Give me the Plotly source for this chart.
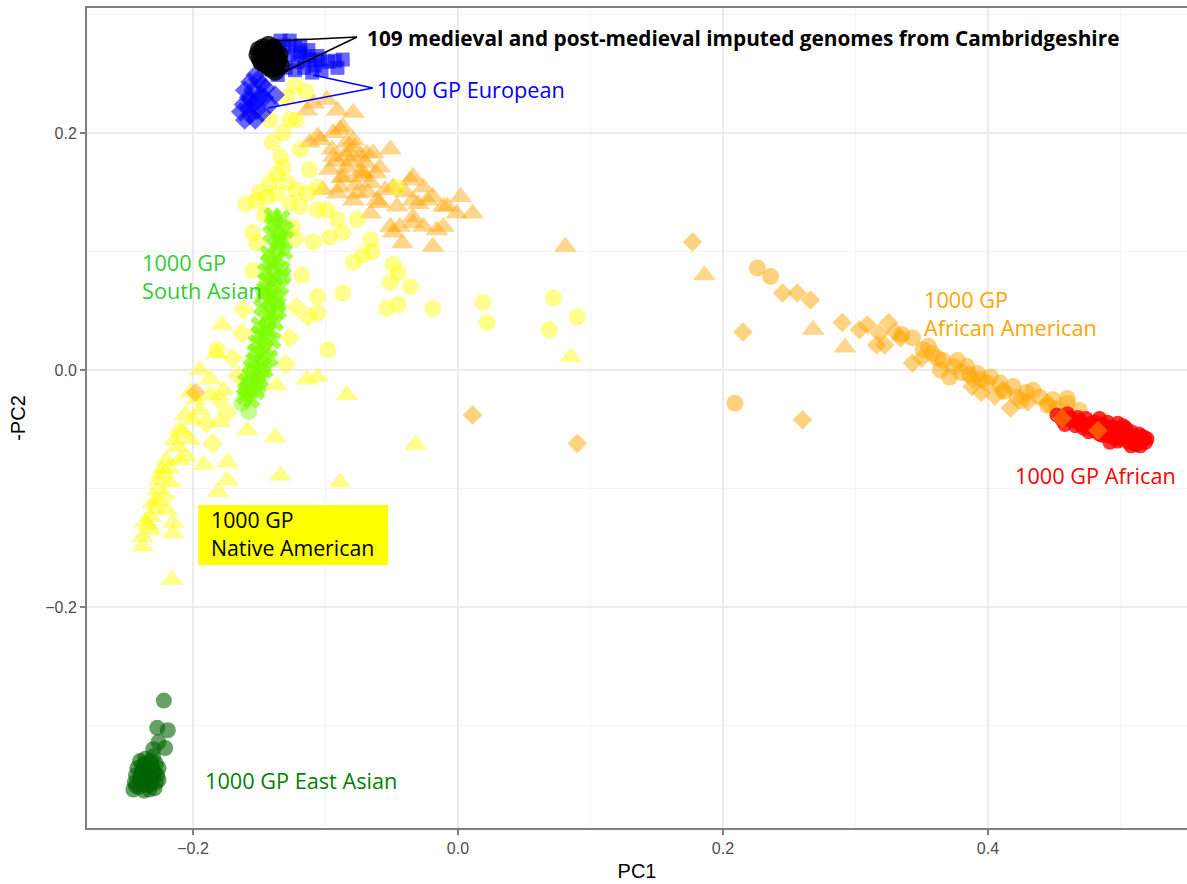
import plotly.graph_objects as go

# ---------------- data (PC1, -PC2) ----------------
camb_x = [-0.150, -0.148, -0.146, -0.144, -0.142, -0.140, -0.138, -0.145, -0.141, -0.147,
          -0.136, -0.143, -0.149, -0.139, -0.144, -0.137, -0.146, -0.142, -0.151, -0.135,
          -0.140, -0.134, -0.138, -0.148, -0.143]
camb_y = [0.270, 0.266, 0.262, 0.268, 0.264, 0.260, 0.266, 0.258, 0.270, 0.272,
          0.262, 0.256, 0.262, 0.272, 0.264, 0.258, 0.266, 0.268, 0.266, 0.266,
          0.255, 0.257, 0.252, 0.260, 0.274]

eur_sq_x = [-0.131, -0.123, -0.119, -0.116, -0.112, -0.108, -0.127, -0.121, -0.116, -0.110,
            -0.104, -0.098, -0.093, -0.087, -0.103, -0.134, -0.127, -0.138, -0.119, -0.113,
            -0.123, -0.130, -0.106, -0.091, -0.140, -0.136]
eur_sq_y = [0.274, 0.272, 0.268, 0.265, 0.262, 0.257, 0.266, 0.260, 0.255, 0.251,
            0.262, 0.260, 0.261, 0.262, 0.253, 0.278, 0.278, 0.270, 0.274, 0.270,
            0.253, 0.255, 0.265, 0.255, 0.253, 0.249]
eur_dm_x = [-0.153, -0.157, -0.161, -0.158, -0.155, -0.152, -0.157, -0.161, -0.153, -0.149,
            -0.148, -0.151, -0.162, -0.164, -0.146, -0.148, -0.142, -0.145, -0.138, -0.155,
            -0.158, -0.151, -0.157]
eur_dm_y = [0.249, 0.243, 0.236, 0.230, 0.224, 0.219, 0.215, 0.211, 0.211, 0.232,
            0.241, 0.245, 0.224, 0.218, 0.230, 0.217, 0.224, 0.238, 0.232, 0.236,
            0.221, 0.228, 0.228]

amr_circ_x = [-0.127, -0.132, -0.140, -0.134, -0.132, -0.142, -0.152, -0.144, -0.137, -0.129,
              -0.122, -0.114, -0.106, -0.127, -0.119, -0.106, -0.099, -0.091, -0.155, -0.152,
              -0.155, -0.125, -0.109, -0.097, -0.087, -0.076, -0.066, -0.065, -0.079, -0.072,
              -0.118, -0.106, -0.087, -0.106, -0.049, -0.045, -0.051, -0.036, -0.054, -0.045,
              -0.019, 0.019, 0.022, 0.072, 0.069, 0.090, -0.098, -0.182, -0.129, -0.122,
              -0.046, -0.142, -0.119, -0.112, -0.146, -0.123, -0.115, -0.160, -0.150, -0.137]
amr_circ_y = [0.211, 0.200, 0.192, 0.180, 0.171, 0.158, 0.143, 0.146, 0.149, 0.158,
              0.152, 0.149, 0.154, 0.141, 0.138, 0.135, 0.135, 0.127, 0.116, 0.107,
              0.084, 0.121, 0.108, 0.112, 0.116, 0.127, 0.110, 0.100, 0.091, 0.097,
              0.080, 0.062, 0.065, 0.048, 0.089, 0.082, 0.074, 0.070, 0.052, 0.055,
              0.052, 0.057, 0.040, 0.061, 0.034, 0.045, 0.017, 0.017, 0.230, 0.211,
              0.154, 0.211, 0.186, 0.169, 0.131, 0.240, 0.235, 0.140, 0.150, 0.165]

amr_tri_x = [-0.195, -0.202, -0.208, -0.205, -0.223, -0.217, -0.227, -0.232, -0.238, -0.238,
             -0.215, -0.216, -0.192, -0.174, -0.174, -0.181, -0.180, -0.159, -0.138, -0.134,
             -0.114, -0.106, -0.177, -0.187, -0.195, -0.200, -0.212, -0.220, -0.210, -0.227,
             -0.220, -0.232, -0.215, -0.084, -0.089, -0.032, 0.085, -0.178, -0.182, -0.137,
             -0.198, -0.206, -0.214, -0.225, -0.229, -0.234, -0.221, -0.202, -0.187, -0.210,
             -0.224, -0.230, -0.218, -0.236]
amr_tri_y = [0.000, -0.019, -0.053, -0.073, -0.084, -0.095, -0.110, -0.124, -0.141, -0.149,
             -0.138, -0.177, -0.080, -0.078, -0.093, -0.103, -0.044, -0.051, -0.057, -0.089,
             -0.008, -0.006, -0.017, -0.008, -0.034, -0.042, -0.065, -0.076, -0.076, -0.101,
             -0.118, -0.135, -0.129, -0.021, -0.095, -0.063, 0.011, 0.038, 0.014, -0.013,
             -0.025, -0.038, -0.059, -0.093, -0.118, -0.131, -0.106, -0.059, -0.021, -0.050,
             -0.088, -0.112, -0.083, -0.128]

amr_dm_x = [-0.122, -0.113, -0.127, -0.162, -0.163, -0.147, -0.159, -0.185, -0.174, -0.122,
            -0.170, -0.190, -0.180, -0.130, -0.166]
amr_dm_y = [0.053, 0.045, 0.027, 0.051, 0.031, 0.019, -0.017, -0.062, -0.036, 0.111,
            0.010, -0.045, -0.025, 0.005, -0.005]

oth_tri_x = [-0.109, -0.099, -0.091, -0.079, -0.104, -0.094, -0.087, -0.084, -0.074, -0.064,
             -0.051, -0.059, -0.072, -0.084, -0.094, -0.036, -0.026, -0.034, -0.019, -0.008,
             0.002, -0.001, -0.034, -0.046, -0.061, -0.076, -0.044, -0.026, -0.016, -0.019,
             -0.049, -0.102, -0.112, -0.089, -0.066, -0.106, -0.089, -0.079, -0.069, -0.097,
             -0.072, -0.049, -0.034, -0.023, -0.011, 0.011, -0.051, -0.042, -0.034, -0.011,
             -0.059, -0.079, -0.091, 0.081, 0.186, 0.268, 0.292, -0.114, -0.082, -0.070,
             -0.088, -0.066, -0.077, -0.095, -0.081, -0.073, -0.086, -0.068, -0.092, -0.078,
             -0.062, -0.085, -0.055, -0.040, -0.030]
oth_tri_y = [0.225, 0.228, 0.219, 0.217, 0.194, 0.200, 0.205, 0.192, 0.180, 0.183,
             0.186, 0.171, 0.166, 0.171, 0.180, 0.160, 0.154, 0.143, 0.146, 0.138,
             0.146, 0.132, 0.129, 0.138, 0.143, 0.149, 0.121, 0.121, 0.118, 0.104,
             0.116, 0.152, 0.192, 0.154, 0.132, 0.197, 0.203, 0.194, 0.183, 0.169,
             0.163, 0.154, 0.163, 0.143, 0.138, 0.132, 0.121, 0.107, 0.124, 0.121,
             0.141, 0.143, 0.149, 0.104, 0.080, 0.034, 0.019, 0.219, 0.184, 0.175,
             0.162, 0.158, 0.156, 0.186, 0.176, 0.168, 0.163, 0.150, 0.176, 0.188,
             0.166, 0.181, 0.152, 0.150, 0.140]

afam_circ_x = [0.226, 0.236, 0.209, 0.343, 0.351, 0.358, 0.366, 0.377, 0.384, 0.392,
               0.402, 0.409, 0.419, 0.429, 0.439, 0.449, 0.460, 0.364, 0.374, 0.399,
               0.422, 0.434, 0.371, 0.460, 0.469, 0.485, 0.335, 0.355, 0.380, 0.395,
               0.412, 0.445, 0.362, 0.386, 0.425, 0.452]
afam_circ_y = [0.086, 0.079, -0.028, 0.027, 0.017, 0.014, 0.008, 0.008, 0.003, -0.003,
               -0.006, -0.011, -0.014, -0.019, -0.023, -0.025, -0.028, 0.000, 0.003, -0.011,
               -0.023, -0.017, -0.006, -0.024, -0.034, -0.042, 0.030, 0.020, -0.002, -0.008,
               -0.018, -0.030, 0.010, -0.004, -0.026, -0.033]
afam_dm_x = [0.177, 0.245, 0.256, 0.266, 0.215, 0.290, 0.011, 0.090, 0.260, 0.303,
             0.309, 0.325, 0.318, 0.316, 0.322, 0.334, 0.343, 0.388, 0.395, 0.417,
             0.456, 0.483, 0.389, 0.411, 0.445, -0.198, 0.330, 0.350, 0.405, 0.430]
afam_dm_y = [0.108, 0.065, 0.065, 0.059, 0.032, 0.040, -0.038, -0.062, -0.042, 0.034,
             0.038, 0.040, 0.031, 0.021, 0.021, 0.027, 0.006, -0.014, -0.019, -0.032,
             -0.041, -0.051, -0.008, -0.017, -0.028, -0.019, 0.032, 0.010, -0.022, -0.027]

afr_x = [0.452, 0.456, 0.460, 0.464, 0.468, 0.470, 0.474, 0.476, 0.480, 0.482,
         0.484, 0.486, 0.488, 0.490, 0.492, 0.494, 0.496, 0.498, 0.500, 0.502,
         0.504, 0.506, 0.508, 0.510, 0.512, 0.514, 0.516, 0.518, 0.470, 0.478,
         0.486, 0.494, 0.502, 0.510, 0.516, 0.490, 0.498, 0.506, 0.462, 0.500,
         0.458, 0.466, 0.472, 0.480, 0.488, 0.496, 0.504, 0.512, 0.519, 0.484,
         0.476, 0.492, 0.508, 0.515, 0.520]
afr_y = [-0.038, -0.042, -0.037, -0.043, -0.040, -0.046, -0.041, -0.048, -0.044, -0.050,
         -0.041, -0.046, -0.052, -0.044, -0.056, -0.048, -0.053, -0.045, -0.058, -0.050,
         -0.055, -0.061, -0.052, -0.058, -0.063, -0.054, -0.060, -0.057, -0.043, -0.045,
         -0.055, -0.052, -0.047, -0.062, -0.056, -0.050, -0.060, -0.057, -0.040, -0.053,
         -0.046, -0.047, -0.049, -0.051, -0.047, -0.058, -0.049, -0.056, -0.061, -0.054,
         -0.052, -0.061, -0.064, -0.064, -0.058]

sas_x = [-0.140, -0.133, -0.137, -0.130, -0.141, -0.135, -0.138, -0.131, -0.143, -0.136,
         -0.140, -0.133, -0.145, -0.138, -0.141, -0.134, -0.146, -0.139, -0.143, -0.136,
         -0.148, -0.141, -0.145, -0.138, -0.150, -0.143, -0.147, -0.140, -0.152, -0.145,
         -0.149, -0.142, -0.154, -0.147, -0.151, -0.157, -0.149, -0.155, -0.159, -0.152,
         -0.161, -0.156, -0.146, -0.137, -0.132, -0.135, -0.144, -0.150, -0.153, -0.139,
         -0.134, -0.142, -0.136, -0.147, -0.144, -0.156, -0.151, -0.160]
sas_y = [0.130, 0.128, 0.122, 0.118, 0.115, 0.110, 0.104, 0.100, 0.098, 0.094,
         0.088, 0.085, 0.083, 0.078, 0.072, 0.070, 0.068, 0.063, 0.058, 0.055,
         0.053, 0.048, 0.043, 0.040, 0.038, 0.033, 0.028, 0.025, 0.023, 0.018,
         0.013, 0.010, 0.008, 0.004, -0.001, -0.004, -0.008, -0.012, -0.016, -0.018,
         -0.022, -0.025, 0.000, 0.060, 0.080, 0.108, 0.075, 0.030, 0.015, 0.125,
         0.112, 0.092, 0.050, 0.064, 0.036, 0.002, -0.013, -0.010]
sas_circ_x = [-0.158, -0.163, -0.160]
sas_circ_y = [-0.035, -0.028, -0.020]

eas_x = [-0.240, -0.236, -0.232, -0.228, -0.242, -0.238, -0.234, -0.230, -0.226, -0.243,
         -0.239, -0.235, -0.231, -0.227, -0.244, -0.240, -0.236, -0.232, -0.228, -0.245,
         -0.241, -0.237, -0.233, -0.229, -0.238, -0.234, -0.230, -0.226, -0.240, -0.235,
         -0.231, -0.243, -0.236, -0.229,
         -0.222, -0.227, -0.219, -0.221, -0.230, -0.226]
eas_y = [-0.330, -0.328, -0.330, -0.332, -0.336, -0.334, -0.336, -0.338, -0.336, -0.342,
         -0.340, -0.342, -0.344, -0.342, -0.348, -0.346, -0.348, -0.350, -0.348, -0.354,
         -0.352, -0.355, -0.354, -0.353, -0.338, -0.345, -0.326, -0.346, -0.344, -0.350,
         -0.334, -0.351, -0.332, -0.340,
         -0.279, -0.302, -0.304, -0.319, -0.320, -0.314]

# ---------------- figure ----------------
fig = go.Figure()

def add(x, y, color, symbol, size, opacity):
    fig.add_trace(go.Scatter(x=x, y=y, mode="markers", showlegend=False, hoverinfo="skip",
                             marker=dict(color=color, symbol=symbol, size=size,
                                         opacity=opacity, line=dict(width=0))))

add(oth_tri_x, oth_tri_y, "#FFA500", "triangle-up", 20, 0.45)
add(amr_tri_x, amr_tri_y, "#FFFF00", "triangle-up", 20, 0.45)
add(amr_dm_x, amr_dm_y, "#FFFF00", "diamond", 16, 0.45)
add(amr_circ_x, amr_circ_y, "#FFFF00", "circle", 17, 0.45)
add(afam_circ_x, afam_circ_y, "#FFA500", "circle", 17, 0.5)
add(afr_x, afr_y, "#FF0000", "circle", 15, 0.8)
add(afam_dm_x, afam_dm_y, "#FFA500", "diamond", 15, 0.5)
add(sas_x, sas_y, "#7CFC00", "x", 16, 0.7)
add(sas_circ_x, sas_circ_y, "#7CFC00", "circle", 17, 0.45)
add(eas_x, eas_y, "#006400", "circle", 16, 0.6)
add(eur_sq_x, eur_sq_y, "#0000FF", "square", 14, 0.6)
add(eur_dm_x, eur_dm_y, "#0000FF", "diamond", 15, 0.6)
add(camb_x, camb_y, "#000000", "circle", 19, 0.8)

LABEL_FONT = "Open Sans, Noto Sans, sans-serif"

# leader lines
camb_vertex = (-0.0762, 0.281)
camb_ends = [(-0.1381, 0.2776), (-0.1328, 0.2506)]
eur_vertex = (-0.0642, 0.238)
eur_ends = [(-0.1094, 0.2489), (-0.1434, 0.2211)]
shapes = []
for ex, ey in camb_ends:
    shapes.append(dict(type="line", xref="x", yref="y", x0=camb_vertex[0], y0=camb_vertex[1],
                       x1=ex, y1=ey, line=dict(color="black", width=1.5)))
for ex, ey in eur_ends:
    shapes.append(dict(type="line", xref="x", yref="y", x0=eur_vertex[0], y0=eur_vertex[1],
                       x1=ex, y1=ey, line=dict(color="#0000FF", width=1.5)))
# Native American yellow box
shapes.append(dict(type="rect", xref="x", yref="y", x0=-0.196, x1=-0.0528, y0=-0.1646, y1=-0.1139,
                   fillcolor="#FFFF00", line=dict(width=0), layer="above"))

annotations = [
    dict(x=-0.0700, y=0.280, text="<b>109 medieval and post-medieval imputed genomes from Cambridgeshire</b>",
         font=dict(color="black", size=20.8)),
    dict(x=-0.0625, y=0.237, text="1000 GP European", font=dict(color="#0000FF", size=21.7)),
    dict(x=-0.240, y=0.0785, text="1000 GP<br>South Asian", font=dict(color="#33CC33", size=21.7)),
    dict(x=0.350, y=0.048, text="1000 GP<br>African American", font=dict(color="#FFA500", size=21.7)),
    dict(x=0.419, y=-0.0886, text="1000 GP African", font=dict(color="#FF0000", size=21.7)),
    dict(x=-0.188, y=-0.1376, text="1000 GP<br>Native American", font=dict(color="black", size=21.3)),
    dict(x=-0.1925, y=-0.3468, text="1000 GP East Asian", font=dict(color="#008000", size=21.7)),
]
for a in annotations:
    a.update(xref="x", yref="y", xanchor="left", yanchor="middle", align="left",
             showarrow=False)
    a["font"]["family"] = LABEL_FONT

grid_major = "#EBEBEB"
grid_minor = "#F5F5F5"
tick_font = dict(family="Liberation Sans, Arial, sans-serif", size=16, color="#4D4D4D")

fig.update_layout(
    width=1187, height=884,
    margin=dict(l=87, r=0, t=8, b=56),
    paper_bgcolor="white", plot_bgcolor="white",
    shapes=shapes, annotations=annotations,
    xaxis=dict(range=[-0.28, 0.5502], tickvals=[-0.2, 0.0, 0.2, 0.4], tickformat=".1f",
               showgrid=True, gridcolor=grid_major, gridwidth=1.5, zeroline=False,
               minor=dict(tickvals=[-0.1, 0.1, 0.3, 0.5], showgrid=True, gridcolor=grid_minor,
                          gridwidth=1, ticks=""),
               showline=True, linecolor="#7F7F7F", linewidth=2, mirror=True,
               ticks="outside", ticklen=5, tickcolor="#7F7F7F", tickwidth=1.5,
               tickfont=tick_font,
               title=dict(text="PC1", font=dict(family="Liberation Sans, Arial, sans-serif",
                                                size=20, color="black"), standoff=8)),
    yaxis=dict(range=[-0.3865, 0.3055], tickvals=[-0.2, 0.0, 0.2], tickformat=".1f",
               showgrid=True, gridcolor=grid_major, gridwidth=1.5, zeroline=False,
               minor=dict(tickvals=[-0.3, -0.1, 0.1, 0.3], showgrid=True, gridcolor=grid_minor,
                          gridwidth=1, ticks=""),
               showline=True, linecolor="#7F7F7F", linewidth=2, mirror=False,
               ticks="outside", ticklen=5, tickcolor="#7F7F7F", tickwidth=1.5,
               tickfont=tick_font,
               title=dict(text="-PC2", font=dict(family="Liberation Sans, Arial, sans-serif",
                                                 size=20, color="black"), standoff=14)),
)

fig.write_html("out.html")
